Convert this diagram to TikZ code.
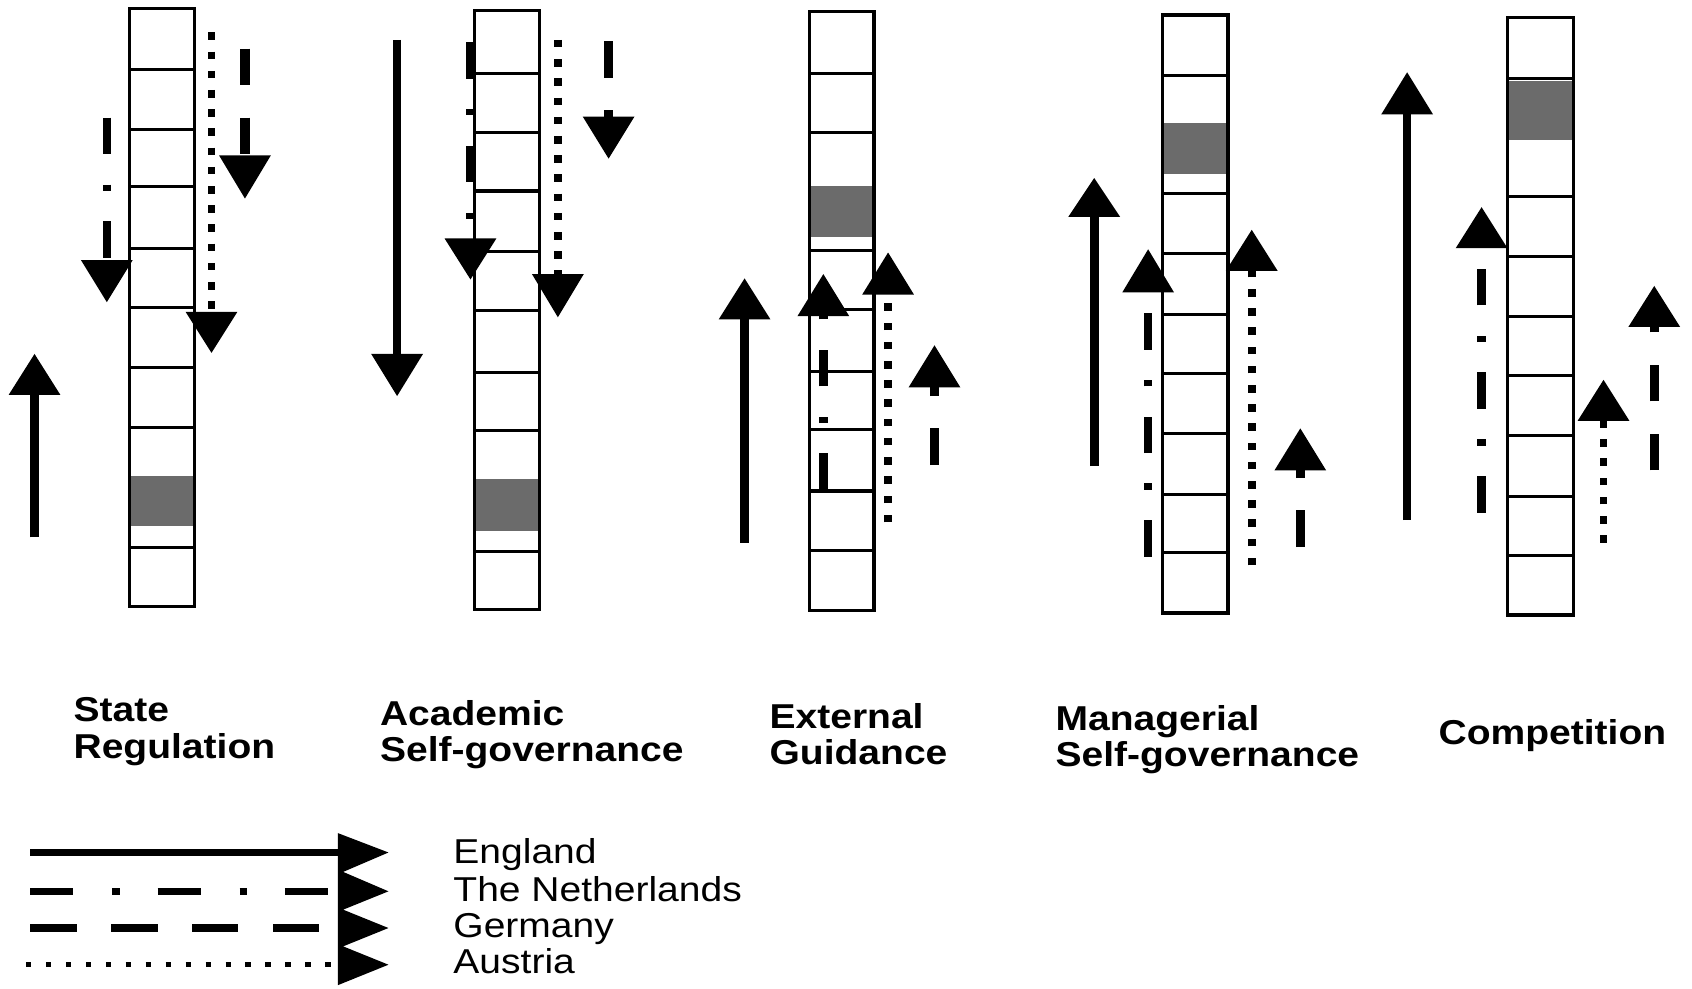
\documentclass[tikz,border=0pt]{standalone}
\usepackage{fontspec}
\setmainfont{Liberation Sans}[FakeStretch=1.13]
\newcommand{\govcol}[7]{%
  % #1 name, #2 x0, #3 x1, #4 top, #5 bottom, #6 line list, #7 shade top
  \fill[shadecell] (#2,#7) rectangle (#3,\shadebot);
  \foreach \yy in {#6} {\draw[cellline] (#2,\yy) -- (#3,\yy);}
  \node[colbox, fit={(#2,#4) (#3,#5)}] (#1) {};
}
\newcommand{\govarrow}[6]{%
  % #1 name, #2 style, #3 x, #4 tail y, #5 head base y, #6 tip y
  \coordinate (#1-tail) at (#3,#4);
  \coordinate (#1-base) at (#3,#5);
  \coordinate (#1-tip) at (#3,#6);
  \draw[#2] (#1-tail) -- (#1-base);
  \fill[black] (#1-tip) -- ([xshift=-24pt]#1-base) -- ([xshift=24pt]#1-base) -- cycle;
}
\usetikzlibrary{fit}
\begin{document}
\begin{tikzpicture}[x=1pt,y=-1pt,
  colbox/.style={draw=black, line width=3pt, inner sep=0pt, outer sep=0pt, rectangle},
  cellline/.style={draw=black, line width=2.8pt},
  shadecell/.style={fill=black!58},
  eng/.style={line width=8pt},
  nl/.style={line width=8pt, dash pattern=on 34pt off 28pt on 6pt off 28pt},
  ger/.style={line width=8.5pt, dash pattern=on 34pt off 30pt},
  aus/.style={line width=7pt, dash pattern=on 7pt off 10.8pt},
  lab/.style={font=\fontsize{32}{34}\selectfont\bfseries, anchor=base west, inner sep=0pt},
  leg/.style={font=\fontsize{32}{34}\selectfont, anchor=base west, inner sep=0pt}]
\useasboundingbox (0,0) rectangle (1568,916);

% ---- columns ----
\def\shadebot{487}
\govcol{c1}{120}{180}{8}{562}{64,120,173,230,285,341,396,507}{441}
\def\shadebot{492}
\govcol{c2}{440}{500}{10}{565}{68,123,177,233,288,345,399,511}{444}
\def\shadebot{220}
\govcol{c3}{750}{810}{11}{566}{68,123,232,287,344,398,455,510}{172}
\def\shadebot{161}
\govcol{c4}{1077}{1138}{14}{568}{70,179,235,291,346,402,458,512}{114}
\def\shadebot{130}
\govcol{c5}{1397}{1458}{16}{570}{73,182,238,293,348,404,460,515}{75}

% ---- arrows: State Regulation ----
\govarrow{a1E}{eng}{32}{498}{366}{328}
\govarrow{a1N}{nl}{99}{109}{241}{280}
\govarrow{a1G}{ger}{227}{45}{144}{184}
\govarrow{a1A}{aus}{196}{30}{289}{327}
% ---- Academic Self-governance ----
\govarrow{a2E}{eng}{368}{37}{328}{367}
\govarrow{a2N}{nl}{436}{39}{221}{259}
\govarrow{a2A}{aus}{517}{37}{254}{294}
\govarrow{a2G}{ger}{564}{38}{108}{147}
% ---- External Guidance ----
\govarrow{a3E}{eng}{690}{503}{296}{258}
\govarrow{a3N}{nl}{763}{454}{293}{254}
\govarrow{a3A}{aus}{823}{484}{273}{234}
\govarrow{a3G}{ger}{866}{431}{359}{320}
% ---- Managerial Self-governance ----
\govarrow{a4E}{eng}{1014}{432}{201}{165}
\govarrow{a4N}{nl}{1064}{516}{271}{231}
\govarrow{a4A}{aus}{1160}{524}{251}{213}
\govarrow{a4G}{ger}{1205}{507}{436}{397}
% ---- Competition ----
\govarrow{a5E}{eng}{1304}{482}{106}{67}
\govarrow{a5N}{nl}{1373}{475}{230}{192}
\govarrow{a5A}{aus}{1486}{503}{390}{352}
\govarrow{a5G}{ger}{1533}{436}{303}{265}

% ---- column labels ----
\node[lab] (l1a) at (68,669) {State};
\node[lab] (l1b) at (68,703) {Regulation};
\node[lab] (l2a) at (352,672) {Academic};
\node[lab] (l2b) at (352,706) {Self-governance};
\node[lab] (l3a) at (713,675) {External};
\node[lab] (l3b) at (713,708) {Guidance};
\node[lab] (l4a) at (978,677) {Managerial};
\node[lab] (l4b) at (978,710) {Self-governance};
\node[lab] (l5a) at (1333,690) {Competition};

% ---- legend ----
\coordinate (gE0) at (28,790);  \coordinate (gE1) at (313,790);
\coordinate (gN0) at (28,826);  \coordinate (gN1) at (313,826);
\coordinate (gG0) at (28,860);  \coordinate (gG1) at (313,860);
\coordinate (gA0) at (24,894);  \coordinate (gA1) at (313,894);
\draw[line width=6pt] (gE0) -- (gE1);
\draw[line width=7pt, dash pattern=on 40pt off 36pt on 7pt off 35pt] (gN0) -- (gN1);
\draw[line width=7pt, dash pattern=on 43pt off 32pt] (gG0) -- (gG1);
\draw[line width=5pt, dash pattern=on 5pt off 13.5pt] (gA0) -- (gA1);
\fill[black] (313,772) -- (360,790) -- (318,808) -- (360,826) -- (318,843)
  -- (360,860) -- (318,877) -- (360,894) -- (313,913) -- cycle;
\node[leg] (tE) at (420,800) {England};
\node[leg] (tN) at (420,835) {The Netherlands};
\node[leg] (tG) at (420,869) {Germany};
\node[leg] (tA) at (420,902) {Austria};
\end{tikzpicture}
\end{document}
